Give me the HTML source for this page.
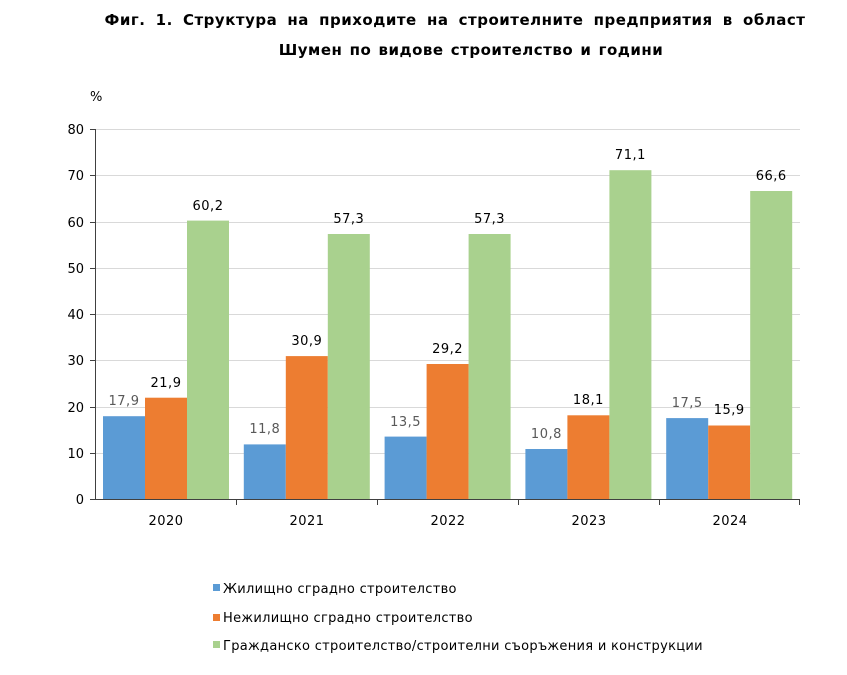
<!DOCTYPE html>
<html><head><meta charset="utf-8"><style>
body{margin:0;background:#fff}
svg{display:block}
text{font-family:"DejaVu Sans","Liberation Sans",sans-serif}
</style></head><body>
<svg width="847" height="675" viewBox="0 0 847 675" xmlns="http://www.w3.org/2000/svg">
<g font-size="15" font-weight="bold" fill="#000" text-anchor="middle" letter-spacing="0.5">
<text x="455" y="25" word-spacing="4.5">Фиг. 1. Структура на приходите на строителните предприятия в област</text>
<text x="471" y="55" word-spacing="1.5">Шумен по видове строителство и години</text>
</g>
<text x="90" y="101" font-size="13" fill="#000">%</text>
<g stroke="#d9d9d9" stroke-width="1">
<line x1="95" y1="129.5" x2="800" y2="129.5"/><line x1="95" y1="175.5" x2="800" y2="175.5"/>
<line x1="95" y1="222.5" x2="800" y2="222.5"/><line x1="95" y1="268.5" x2="800" y2="268.5"/>
<line x1="95" y1="314.5" x2="800" y2="314.5"/><line x1="95" y1="360.5" x2="800" y2="360.5"/>
<line x1="95" y1="407.5" x2="800" y2="407.5"/><line x1="95" y1="453.5" x2="800" y2="453.5"/>
</g>
<g font-size="13" fill="#000" text-anchor="end">
<text x="84" y="134">80</text><text x="84" y="180">70</text><text x="84" y="227">60</text>
<text x="84" y="273">50</text><text x="84" y="319">40</text><text x="84" y="365">30</text>
<text x="84" y="412">20</text><text x="84" y="458">10</text><text x="84" y="504">0</text>
</g>
<g>
<rect x="103" y="416.2" width="42" height="82.8" fill="#5b9bd5"/>
<rect x="145" y="397.7" width="42" height="101.3" fill="#ed7d31"/>
<rect x="187" y="220.6" width="42" height="278.4" fill="#a9d18e"/>
<rect x="243.8" y="444.4" width="42" height="54.6" fill="#5b9bd5"/>
<rect x="285.8" y="356.1" width="42" height="142.9" fill="#ed7d31"/>
<rect x="327.8" y="234.0" width="42" height="265" fill="#a9d18e"/>
<rect x="384.6" y="436.6" width="42" height="62.4" fill="#5b9bd5"/>
<rect x="426.6" y="364.0" width="42" height="135" fill="#ed7d31"/>
<rect x="468.6" y="234.0" width="42" height="265" fill="#a9d18e"/>
<rect x="525.4" y="449.0" width="42" height="50" fill="#5b9bd5"/>
<rect x="567.4" y="415.3" width="42" height="83.7" fill="#ed7d31"/>
<rect x="609.4" y="170.2" width="42" height="328.8" fill="#a9d18e"/>
<rect x="666.2" y="418.1" width="42" height="80.9" fill="#5b9bd5"/>
<rect x="708.2" y="425.5" width="42" height="73.5" fill="#ed7d31"/>
<rect x="750.2" y="191.0" width="42" height="308" fill="#a9d18e"/>
</g>
<g font-size="13" text-anchor="middle" fill="#000" letter-spacing="0.5">
<text x="124" y="405" fill="#595959">17,9</text>
<text x="166" y="387">21,9</text>
<text x="208" y="210">60,2</text>
<text x="264.8" y="433" fill="#595959">11,8</text>
<text x="306.8" y="345">30,9</text>
<text x="348.8" y="223">57,3</text>
<text x="405.6" y="426" fill="#595959">13,5</text>
<text x="447.6" y="353">29,2</text>
<text x="489.6" y="223">57,3</text>
<text x="546.4" y="438" fill="#595959">10,8</text>
<text x="588.4" y="404">18,1</text>
<text x="630.4" y="159">71,1</text>
<text x="687.2" y="407" fill="#595959">17,5</text>
<text x="729.2" y="414">15,9</text>
<text x="771.2" y="180">66,6</text>
</g>
<g stroke="#404040" stroke-width="1">
<line x1="95.5" y1="129" x2="95.5" y2="499"/><line x1="95" y1="499.5" x2="800" y2="499.5"/>
<line x1="90" y1="129.5" x2="95" y2="129.5"/><line x1="90" y1="175.5" x2="95" y2="175.5"/>
<line x1="90" y1="222.5" x2="95" y2="222.5"/><line x1="90" y1="268.5" x2="95" y2="268.5"/>
<line x1="90" y1="314.5" x2="95" y2="314.5"/><line x1="90" y1="360.5" x2="95" y2="360.5"/>
<line x1="90" y1="407.5" x2="95" y2="407.5"/><line x1="90" y1="453.5" x2="95" y2="453.5"/>
<line x1="90" y1="499.5" x2="95" y2="499.5"/>
<line x1="236.5" y1="499" x2="236.5" y2="505"/><line x1="377.5" y1="499" x2="377.5" y2="505"/>
<line x1="518.5" y1="499" x2="518.5" y2="505"/><line x1="659.5" y1="499" x2="659.5" y2="505"/>
<line x1="799.5" y1="499" x2="799.5" y2="505"/>
</g>
<g font-size="13" fill="#000" text-anchor="middle" letter-spacing="0.5">
<text x="166" y="525">2020</text><text x="307" y="525">2021</text><text x="448" y="525">2022</text>
<text x="589" y="525">2023</text><text x="730" y="525">2024</text>
</g>
<rect x="213" y="584" width="7" height="7" fill="#5b9bd5"/>
<rect x="213" y="614" width="7" height="7" fill="#ed7d31"/>
<rect x="213" y="641" width="7" height="7" fill="#a9d18e"/>
<g font-size="13" fill="#000" letter-spacing="0.3">
<text x="223" y="593">Жилищно сградно строителство</text>
<text x="223" y="622">Нежилищно сградно строителство</text>
<text x="223" y="650">Гражданско строителство/строителни съоръжения и конструкции</text>
</g>
</svg>
</body></html>
